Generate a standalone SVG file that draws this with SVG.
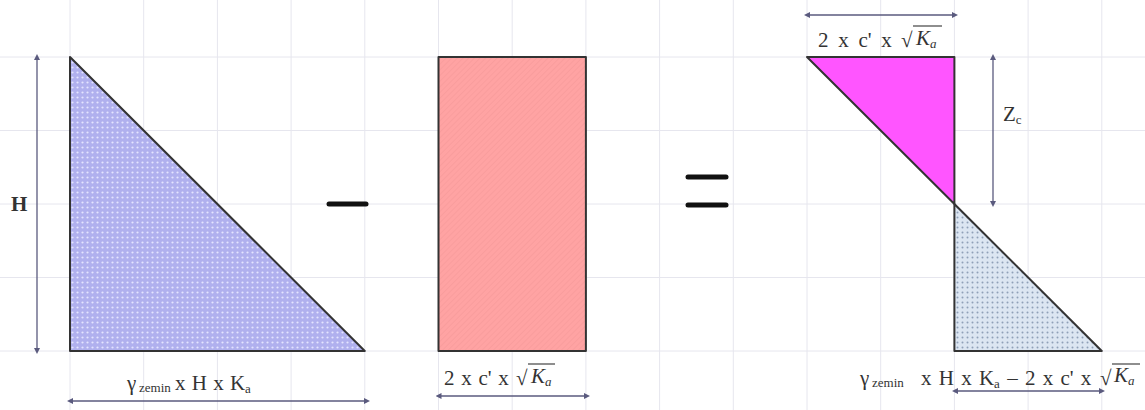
<svg xmlns="http://www.w3.org/2000/svg" width="1145" height="410" viewBox="0 0 1145 410">
<style>
.grid line{stroke:#e6e6ee;stroke-width:1}
.dim{stroke:#5a5a7e;stroke-width:1.3;fill:none;marker-start:url(#ah);marker-end:url(#ah)}
.t{font-family:"Liberation Serif","Times New Roman",serif;font-size:21px;fill:#333}
.s{font-size:13px}
.shape{stroke:#333;stroke-width:2;stroke-linejoin:round}
.op{stroke:#111;stroke-width:5;stroke-linecap:round}
.ov{stroke:#444;stroke-width:1.2}
</style>
<defs>
<marker id="ah" viewBox="0 0 8 8" refX="4" refY="4" markerWidth="6" markerHeight="6" orient="auto-start-reverse" markerUnits="userSpaceOnUse">
<path d="M0,0 L8,4 L0,8 z" fill="#5a5a7e"/>
</marker>
<pattern id="dotsBlue" width="5" height="5" patternUnits="userSpaceOnUse">
<rect width="5" height="5" fill="#b0b0ee"/>
<circle cx="2.5" cy="2.5" r="1.1" fill="#e4e4ff"/>
</pattern>
<pattern id="dotsGrey" width="5" height="5" patternUnits="userSpaceOnUse">
<rect width="5" height="5" fill="#dce6f2"/>
<circle cx="2.5" cy="2.5" r="1" fill="#8fa0b8"/>
</pattern>
<pattern id="hatchRed" width="4" height="4" patternUnits="userSpaceOnUse" patternTransform="rotate(45)">
<rect width="4" height="4" fill="#ffa3a3"/>
<line x1="0" y1="0" x2="0" y2="4" stroke="#f49898" stroke-width="1"/>
</pattern>
</defs>
<rect width="1145" height="410" fill="#fff"/>
<g class="grid">
<line x1="70" y1="0" x2="70" y2="410"/><line x1="143.7" y1="0" x2="143.7" y2="410"/><line x1="217.4" y1="0" x2="217.4" y2="410"/><line x1="291.1" y1="0" x2="291.1" y2="410"/><line x1="364.8" y1="0" x2="364.8" y2="410"/><line x1="438.5" y1="0" x2="438.5" y2="410"/><line x1="512.2" y1="0" x2="512.2" y2="410"/><line x1="585.9" y1="0" x2="585.9" y2="410"/><line x1="659.6" y1="0" x2="659.6" y2="410"/><line x1="733.3" y1="0" x2="733.3" y2="410"/><line x1="807" y1="0" x2="807" y2="410"/><line x1="880.7" y1="0" x2="880.7" y2="410"/><line x1="954.4" y1="0" x2="954.4" y2="410"/><line x1="1028.1" y1="0" x2="1028.1" y2="410"/><line x1="1101.8" y1="0" x2="1101.8" y2="410"/>
<line x1="0" y1="57" x2="1145" y2="57"/><line x1="0" y1="130.5" x2="1145" y2="130.5"/><line x1="0" y1="204" x2="1145" y2="204"/><line x1="0" y1="277.5" x2="1145" y2="277.5"/><line x1="0" y1="351" x2="1145" y2="351"/>
</g>
<g id="triangle-active">
<polygon class="shape" points="70,57 70,351 364.8,351" fill="url(#dotsBlue)"/>
</g>
<g id="label-H"><text class="t" x="11" y="211" font-weight="bold" font-size="19">H</text></g>
<g id="minus"><line class="op" x1="329" y1="204" x2="366" y2="204"/></g>
<g id="rect-cohesion">
<rect class="shape" x="438.5" y="57" width="147.4" height="294" fill="url(#hatchRed)" stroke="#4a3030"/>
</g>
<g id="equals"><line class="op" x1="688" y1="177" x2="726" y2="177"/><line class="op" x1="688" y1="205" x2="726" y2="205"/></g>
<g id="triangle-tension">
<polygon class="shape" points="807,57 954.4,57 954.4,204" fill="#ff55ff"/>
</g>
<g id="triangle-net">
<polygon class="shape" points="954.4,204 954.4,351 1101.8,351" fill="url(#dotsGrey)"/>
</g>
<g id="connectors">
<line class="dim" x1="37" y1="57" x2="37" y2="351"/>
<line class="dim" x1="70" y1="401" x2="367" y2="401"/>
<line class="dim" x1="438.5" y1="396" x2="587" y2="396"/>
<line class="dim" x1="807" y1="15" x2="955" y2="15"/>
<line class="dim" x1="993" y1="57" x2="993" y2="204"/>
<line class="dim" x1="955" y1="391" x2="1102" y2="391"/>
</g>
<g id="label-left">
<text class="t" x="127" y="390">γ</text>
<text class="t s" x="139" y="392">zemin</text>
<text class="t" x="175" y="390" word-spacing="1">x H x K<tspan class="s" dy="3">a</tspan></text>
</g>
<g id="label-rect">
<text class="t" x="444" y="385" word-spacing="1.5">2 x c' x</text>
<text class="t" x="516" y="385" font-size="22">√</text>
<line class="ov" x1="528" y1="364" x2="555" y2="364"/>
<text class="t" x="531" y="383" font-style="italic">K<tspan class="s" dy="3" font-size="14">a</tspan></text>
</g>
<g id="label-top">
<text class="t" x="818" y="47" word-spacing="4.5">2 x c' x</text>
<text class="t" x="901" y="47" font-size="22">√</text>
<line class="ov" x1="913" y1="26" x2="942" y2="26"/>
<text class="t" x="916" y="45" font-style="italic">K<tspan class="s" dy="3" font-size="14">a</tspan></text>
</g>
<g id="label-Zc">
<text class="t" x="1003" y="121">Z<tspan class="s" dy="3">c</tspan></text>
</g>
<g id="label-net">
<text class="t" x="860" y="385">γ</text>
<text class="t s" x="872" y="387" font-size="15">zemin</text>
<text class="t" x="921" y="385" word-spacing="2">x H x K<tspan class="s" dy="3">a</tspan><tspan dy="-3"> – 2 x c' x</tspan></text>
<text class="t" x="1100" y="385" font-size="22">√</text>
<line class="ov" x1="1112" y1="364" x2="1140" y2="364"/>
<text class="t" x="1114" y="382" font-style="italic">K<tspan class="s" dy="3" font-size="14">a</tspan></text>
</g>
</svg>
